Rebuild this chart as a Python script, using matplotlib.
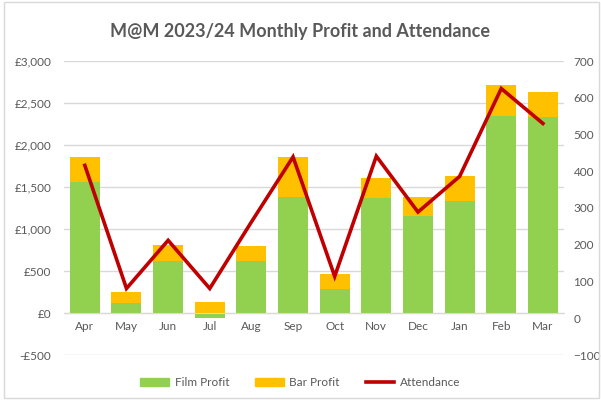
import matplotlib.pyplot as plt
import numpy as np
from matplotlib.lines import Line2D
from matplotlib.patches import Patch, Rectangle

plt.rcParams["font.family"] = ["Lato", "DejaVu Sans"]

# Values
months = ["Apr", "May", "Jun", "Jul", "Aug", "Sep", "Oct", "Nov", "Dec", "Jan", "Feb", "Mar"]
film_profit = [1555, 115, 623, -65, 623, 1377, 290, 1369, 1155, 1337, 2345, 2330]
bar_profit = [300, 139, 187, 131, 175, 484, 174, 238, 230, 294, 365, 301]
attendance = [416, 81, 212, 81, 262, 439, 114, 441, 289, 386, 625, 530]

left_ticks = [-500, 0, 500, 1000, 1500, 2000, 2500, 3000]
right_ticks = [-100, 0, 100, 200, 300, 400, 500, 600, 700]

GREEN = "#92D050"
YELLOW = "#FFC000"
RED = "#C00000"
TEXT = "#595959"
GRID = "#D9D9D9"

fig = plt.figure(figsize=(6.01, 4.0), dpi=100)
ax = fig.add_axes([0.1065, 0.1125, 0.8315, 0.735])

x = np.arange(len(months))
film = np.array(film_profit)
bar = np.array(bar_profit)
# Excel stacks positive values from zero, negatives go below
bar_bottom = np.where(film > 0, film, 0)

ax.bar(x, film, width=0.72, color=GREEN, zorder=2)
ax.bar(x, bar, bottom=bar_bottom, width=0.72, color=YELLOW, zorder=2)

ax.set_xlim(-0.5, len(months) - 0.5)
ax.set_ylim(-500, 3000)
ax.set_yticks(left_ticks)
ax.set_yticklabels([("-£{:,}" if v < 0 else "£{:,}").format(abs(v)) for v in left_ticks])
ax.yaxis.grid(True, color=GRID, linewidth=1)
ax.set_axisbelow(True)
ax.set_xticks(x)
ax.set_xticklabels(months)

for side in ["top", "left", "right"]:
    ax.spines[side].set_visible(False)
ax.spines["bottom"].set_position(("data", 0))
ax.spines["bottom"].set_color(GRID)
ax.tick_params(axis="both", length=0, colors=TEXT, labelsize=8.5)
ax.tick_params(axis="y", pad=9)
ax.tick_params(axis="x", pad=6)

ax2 = ax.twinx()
ax2.plot(x, attendance, color=RED, linewidth=2.6, solid_joinstyle="miter")
ax2.set_ylim(-100, 700)
ax2.set_yticks(right_ticks)
for side in ["top", "left", "right", "bottom"]:
    ax2.spines[side].set_visible(False)
ax2.tick_params(axis="y", length=0, colors=TEXT, labelsize=8.5, pad=7)

fig.text(0.5, 0.922, "M@M 2023/24 Monthly Profit and Attendance",
         ha="center", va="center", fontsize=13, fontweight="bold", color=TEXT)

handles = [
    Patch(color=GREEN, label="Film Profit"),
    Patch(color=YELLOW, label="Bar Profit"),
    Line2D([], [], color=RED, linewidth=2.6, label="Attendance"),
]
fig.legend(handles=handles, loc="center", bbox_to_anchor=(0.5, 0.043), ncol=3,
           frameon=False, fontsize=8.5, labelcolor=TEXT, handlelength=2.4,
           handleheight=0.6, columnspacing=2.2, handletextpad=0.5)

# light chart-area border
fig.add_artist(Rectangle((0.006, 0.004), 0.99, 0.99, transform=fig.transFigure,
                         fill=False, edgecolor=GRID, linewidth=1))

fig.savefig("out.png", dpi=100)
